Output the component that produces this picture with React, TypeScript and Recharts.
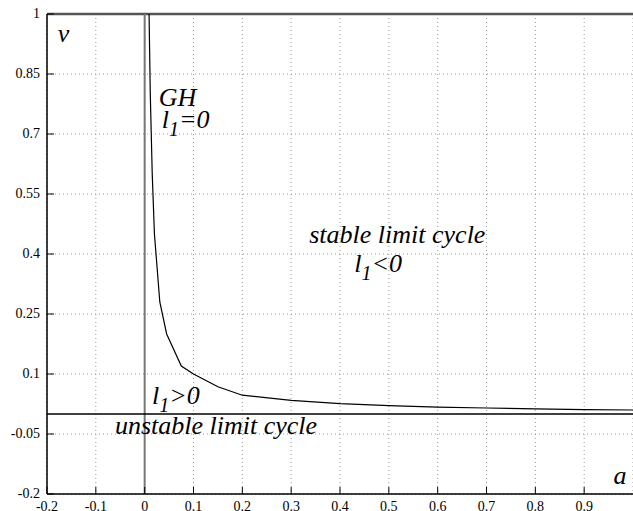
import React from 'react';
import {
  LineChart,
  Line,
  XAxis,
  YAxis,
  CartesianGrid,
  ReferenceLine,
  ReferenceDot,
} from 'recharts';

// Hopf (GH) boundary curve in the (a, v) plane
const curveA = [0.009, 0.0115, 0.0155, 0.02, 0.031, 0.045, 0.075, 0.1, 0.15, 0.2, 0.3, 0.4, 0.5, 0.6, 0.7, 0.8, 0.9, 1.0];
const curveV = [1, 0.8, 0.6, 0.45, 0.28, 0.2, 0.12, 0.1, 0.068, 0.047, 0.034, 0.026, 0.021, 0.017, 0.015, 0.013, 0.011, 0.01];

const aTicks = [-0.2, -0.1, 0, 0.1, 0.2, 0.3, 0.4, 0.5, 0.6, 0.7, 0.8, 0.9];
const vTicks = [-0.2, -0.05, 0.1, 0.25, 0.4, 0.55, 0.7, 0.85, 1];

// region labels: [a, v, main text, subscript, rest]
const labels: [number, number, string, string, string][] = [
  [-0.178, 0.93, 'v', '', ''],
  [0.029, 0.77, 'GH', '', ''],
  [0.035, 0.715, 'l', '1', '=0'],
  [0.337, 0.4275, 'stable limit cycle', '', ''],
  [0.429, 0.355, 'l', '1', '<0'],
  [0.015, 0.025, 'l', '1', '>0'],
  [-0.061, -0.05, 'unstable limit cycle', '', ''],
  [0.96, -0.175, 'a', '', ''],
];

const data = curveA.map((a, i) => ({ a, v: curveV[i] }));

// text inherits the serif face from the wrapper
const YTick = (props: any) => {
  const { x, y, payload } = props;
  return (
    <g>
      <line x1={x + 7} y1={y} x2={x + 14} y2={y} stroke="#000" strokeWidth={1} />
      <text x={x} y={y + 4} textAnchor="end" fontSize={14} fill="#000">
        {String(payload.value)}
      </text>
    </g>
  );
};

const XTick = (props: any) => {
  const { x, y, payload } = props;
  return (
    <g>
      <line x1={x} y1={y} x2={x} y2={y - 7} stroke="#000" strokeWidth={1} />
      <text x={x} y={y + 17} textAnchor="middle" fontSize={14} fill="#000">
        {String(payload.value)}
      </text>
    </g>
  );
};

const makeLabel = (main: string, sub: string, rest: string) => (props: any) => (
  <text x={props.cx} y={props.cy} fontStyle="italic" fontSize={26} fill="#000">
    <tspan>{main}</tspan>
    {sub && (
      <tspan fontSize={20} dy={8}>
        {sub}
      </tspan>
    )}
    {rest && (
      <tspan fontSize={26} dy={-8}>
        {rest}
      </tspan>
    )}
  </text>
);

export default function App() {
  return (
    <div
      style={{
        position: 'absolute',
        left: 0,
        top: 0,
        width: 633,
        height: 511,
        background: '#fff',
        fontFamily: 'Liberation Serif',
      }}
    >
      <LineChart
        width={633}
        height={511}
        data={data}
        margin={{ top: 14, right: 0, left: 0, bottom: 0 }}
      >
        <CartesianGrid stroke="#999" strokeDasharray="1 3" />
        <XAxis
          dataKey="a"
          type="number"
          domain={[-0.2, 1]}
          ticks={aTicks}
          height={17}
          tickSize={0}
          tickMargin={0}
          tick={<XTick />}
          axisLine={{ stroke: '#000', strokeWidth: 1.5 }}
          tickLine={false}
          allowDataOverflow
        />
        <YAxis
          type="number"
          domain={[-0.2, 1]}
          ticks={vTicks}
          width={47}
          tickSize={0}
          tickMargin={7}
          tick={<YTick />}
          axisLine={{ stroke: '#000', strokeWidth: 1.5 }}
          tickLine={false}
          allowDataOverflow
        />
        <ReferenceLine y={1} stroke="#555" strokeWidth={2.5} />
        <ReferenceLine x={0} stroke="#777" strokeWidth={2} />
        <ReferenceLine y={0} stroke="#000" strokeWidth={1.5} />
        <Line
          dataKey="v"
          type="linear"
          stroke="#000"
          strokeWidth={1.2}
          dot={false}
          isAnimationActive={false}
        />
        {labels.map(([a, v, main, sub, rest], i) => (
          <ReferenceDot
            key={i}
            x={a}
            y={v}
            r={0}
            ifOverflow="visible"
            shape={makeLabel(main, sub, rest)}
          />
        ))}
      </LineChart>
    </div>
  );
}
